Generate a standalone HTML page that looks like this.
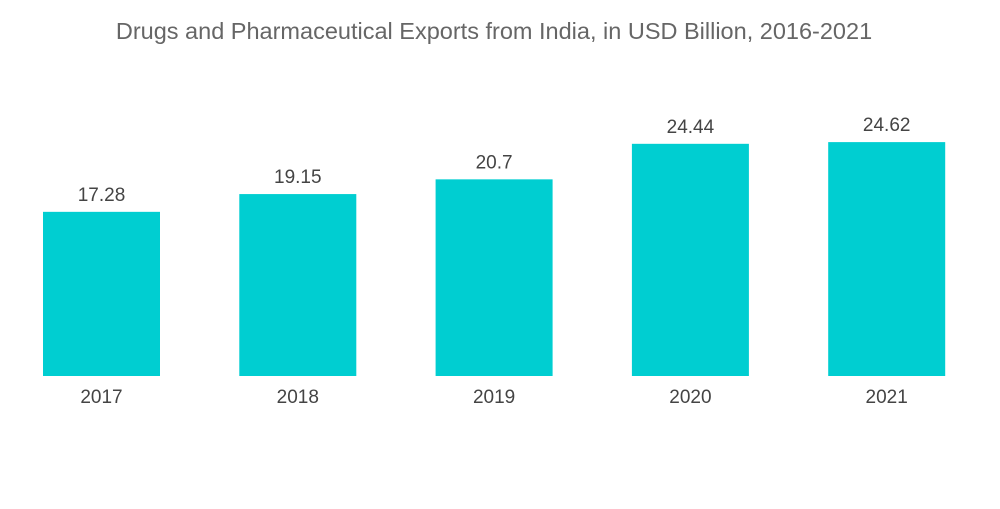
<!DOCTYPE html>
<html><head><meta charset="utf-8"><style>
body{margin:0;background:#fff;width:1000px;height:504px;overflow:hidden;font-family:"Liberation Sans",sans-serif}
</style></head><body>
<svg width="1000" height="504">
<text x="494" y="39" text-anchor="middle" font-size="23.5" fill="#666">Drugs and Pharmaceutical Exports from India, in USD Billion, 2016-2021</text>
<g id="bars"></g>
</svg>
<script>
const categories=["2017","2018","2019","2020","2021"];
const values=[17.28,19.15,20.7,24.44,24.62];
const labels=["17.28","19.15","20.7","24.44","24.62"];
const base=376, scale=9.5, x0=43, step=196.3, bw=117;
const g=document.getElementById('bars');
const ns="http://www.w3.org/2000/svg";
function yOf(v){return base-v*scale;}
categories.forEach((c,i)=>{
 const x=x0+i*step;
 const r=document.createElementNS(ns,'rect');
 r.setAttribute('x',x);r.setAttribute('y',yOf(values[i]));r.setAttribute('width',bw);r.setAttribute('height',base-yOf(values[i]));r.setAttribute('fill','#00ced1');
 
 
 g.appendChild(r);
 const t=document.createElementNS(ns,'text');
 t.setAttribute('x',x+bw/2);t.setAttribute('y',yOf(values[i])-11);t.setAttribute('text-anchor','middle');t.setAttribute('font-size','19');t.setAttribute('fill','#444');
 t.textContent=labels[i];
 
 
 g.appendChild(t);
 const a=document.createElementNS(ns,'text');
 a.setAttribute('x',x+bw/2);a.setAttribute('y',403);a.setAttribute('text-anchor','middle');a.setAttribute('font-size','19');a.setAttribute('fill','#444');
 a.textContent=c;
 
 
 g.appendChild(a);
});
</script>
</body></html>
